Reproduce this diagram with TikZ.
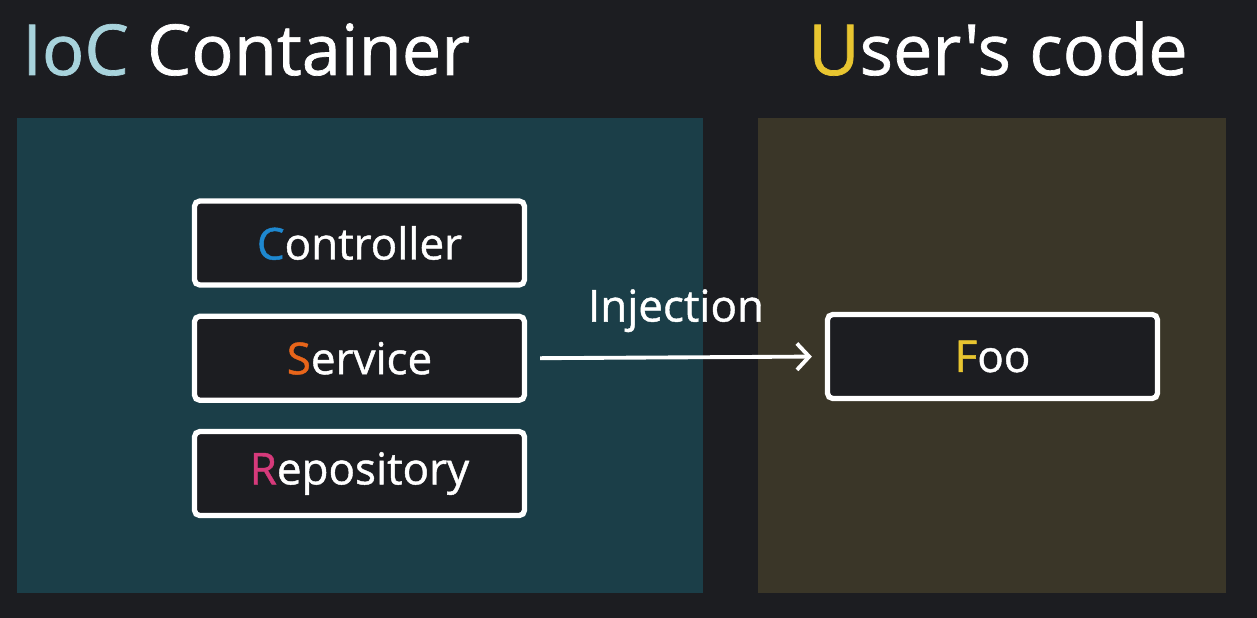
\documentclass[tikz,border=0pt]{standalone}
\usepackage{fontspec}
\setmainfont{Open Sans}[Ligatures=TeXOff]
\usetikzlibrary{arrows.meta,positioning}
\definecolor{bgdark}{RGB}{28,29,33}
\definecolor{iocteal}{RGB}{27,62,72}
\definecolor{userolive}{RGB}{58,54,40}
\definecolor{ioclight}{RGB}{168,211,220}
\definecolor{cblue}{RGB}{30,136,208}
\definecolor{sorange}{RGB}{232,101,26}
\definecolor{rpink}{RGB}{214,58,123}
\definecolor{uyellow}{RGB}{232,197,48}
\tikzset{
	panel/.style  = {rectangle,draw=none,anchor=north west,inner sep=0pt},
	bean/.style   = {rectangle,rounded corners=3pt,draw=white,line width=3pt,
		fill=bgdark,minimum width=6.6cm,minimum height=1.68cm,
		text=white,font=\fontsize{25}{30}\selectfont\addfontfeatures{FakeBold=1}},
	title/.style  = {anchor=base west,inner sep=0pt,text=white,
		font=\fontsize{40}{48}\selectfont\addfontfeatures{FakeBold=1}},
	inj/.style    = {-{Straight Barb[length=7pt,width=15pt,line width=2.2pt]},
		line width=2.2pt,white},
}
\begin{document}
\begin{tikzpicture}
	\fill[bgdark] (0,0) rectangle (25.14,-12.36);
	\useasboundingbox (0,0) rectangle (25.14,-12.36);
	
	%% Titres
	\node (ioctitle) [title] at (0.44,-1.5) {\textcolor{ioclight}{IoC} Container};
	\node (usertitle)[title] at (16.16,-1.5) {\textcolor{uyellow}{U}ser's code};
	
	%% Panneaux
	\node (iocpanel) [panel,fill=iocteal,minimum width=13.72cm,minimum height=9.5cm]
	at (0.34,-2.36) {};
	\node (userpanel)[panel,fill=userolive,minimum width=9.36cm,minimum height=9.5cm]
	at (15.16,-2.36) {};
	
	%% Beans
	\node (controller) [bean] at (7.19,-4.86) {\textcolor{cblue}{C}ontroller};
	\node (service)    [bean,below=0.52cm of controller] {\textcolor{sorange}{S}ervice};
	\node (repository) [bean,below=0.52cm of service] {\textcolor{rpink}{R}epository};
	\node (foo)        [bean] at (19.85,-7.13) {\textcolor{uyellow}{F}oo};
	
	%% Fleche
	\draw[inj,shorten <=0.26cm,shorten >=0.26cm](service.east)--(foo.west)
	node[midway,above=0.35cm,text=white,
	font=\fontsize{25}{30}\selectfont\addfontfeatures{FakeBold=1}]{Injection};
\end{tikzpicture}
\end{document}
